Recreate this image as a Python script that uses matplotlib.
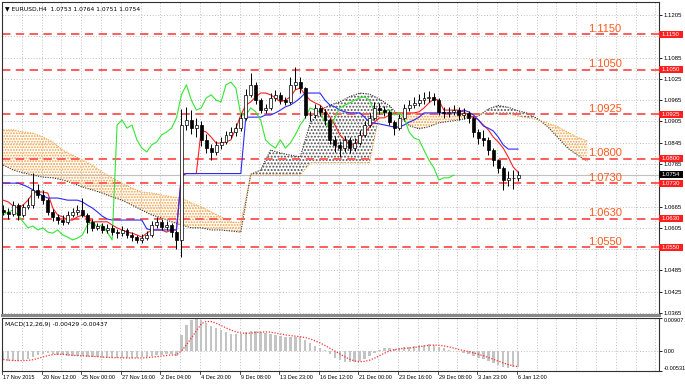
import numpy as np
import pandas as pd
import matplotlib
matplotlib.use("Agg")
import matplotlib.pyplot as plt
from matplotlib.patches import Rectangle

plt.rcParams['font.family'] = ['Liberation Sans', 'DejaVu Sans']
plt.rcParams['hatch.linewidth'] = 0.9

# EURUSD, each candle = two H4 bars (17 Nov 2015 .. 7 Jan 2016)
first_open = 1.0655
closes = [1.0650, 1.0644, 1.0669, 1.0641, 1.0664, 1.0669, 1.0712, 1.0698, 1.0683, 1.0650,
          1.0636, 1.0627, 1.0622, 1.0641, 1.0650, 1.0655, 1.0641, 1.0622, 1.0605, 1.0610,
          1.0599, 1.0605, 1.0593, 1.0590, 1.0599, 1.0585, 1.0579, 1.0571, 1.0576, 1.0585,
          1.0613, 1.0622, 1.0607, 1.0613, 1.0593, 1.0571, 1.0895, 1.0909, 1.0886, 1.0895,
          1.0853, 1.0830, 1.0819, 1.0839, 1.0847, 1.0867, 1.0875, 1.0886, 1.0915, 1.0980,
          1.1008, 1.0965, 1.0937, 1.0943, 1.0971, 1.0980, 1.0965, 1.0960, 1.1008, 1.1016,
          1.0999, 1.0923, 1.0923, 1.0943, 1.0932, 1.0909, 1.0853, 1.0839, 1.0830, 1.0853,
          1.0830, 1.0844, 1.0867, 1.0895, 1.0915, 1.0943, 1.0937, 1.0932, 1.0903, 1.0886,
          1.0915, 1.0943, 1.0951, 1.0957, 1.0965, 1.0971, 1.0974, 1.0965, 1.0932, 1.0929,
          1.0932, 1.0937, 1.0923, 1.0929, 1.0915, 1.0875, 1.0858, 1.0853, 1.0824, 1.0796,
          1.0774, 1.0740, 1.0746, 1.0746, 1.0754]
highs = [1.0668, 1.0660, 1.0680, 1.0676, 1.0672, 1.0690, 1.0760, 1.0728, 1.0712, 1.0690,
         1.0658, 1.0645, 1.0640, 1.0652, 1.0662, 1.0668, 1.0688, 1.0648, 1.0630, 1.0620,
         1.0618, 1.0615, 1.0612, 1.0602, 1.0610, 1.0605, 1.0592, 1.0585, 1.0588, 1.0596,
         1.0625, 1.0635, 1.0630, 1.0625, 1.0620, 1.0600, 1.0940, 1.0945, 1.0937, 1.0915,
         1.0905, 1.0870, 1.0840, 1.0850, 1.0860, 1.0878, 1.0890, 1.0900, 1.0930, 1.0995,
         1.1041, 1.1015, 1.0972, 1.0955, 1.0985, 1.0994, 1.0988, 1.0975, 1.1030, 1.1058,
         1.1030, 1.1002, 1.0935, 1.0955, 1.0950, 1.0940, 1.0915, 1.0865, 1.0850, 1.0865,
         1.0860, 1.0858, 1.0880, 1.0905, 1.0928, 1.0960, 1.0957, 1.0948, 1.0938, 1.0910,
         1.0925, 1.0955, 1.0965, 1.0975, 1.0982, 1.0988, 1.0992, 1.0985, 1.0972, 1.0945,
         1.0945, 1.0950, 1.0945, 1.0942, 1.0935, 1.0920, 1.0885, 1.0880, 1.0860, 1.0830,
         1.0800, 1.0778, 1.0765, 1.0768, 1.0765]
lows = [1.0640, 1.0630, 1.0638, 1.0627, 1.0635, 1.0658, 1.0662, 1.0690, 1.0672, 1.0640,
        1.0625, 1.0615, 1.0612, 1.0615, 1.0635, 1.0642, 1.0635, 1.0590, 1.0596, 1.0598,
        1.0590, 1.0590, 1.0585, 1.0575, 1.0583, 1.0575, 1.0568, 1.0562, 1.0563, 1.0570,
        1.0580, 1.0605, 1.0598, 1.0600, 1.0580, 1.0545, 1.0524, 1.0880, 1.0870, 1.0860,
        1.0835, 1.0815, 1.0796, 1.0810, 1.0828, 1.0840, 1.0858, 1.0865, 1.0878, 1.0910,
        1.0975, 1.0955, 1.0928, 1.0930, 1.0938, 1.0962, 1.0955, 1.0950, 1.0955, 1.0995,
        1.0985, 1.0915, 1.0905, 1.0915, 1.0920, 1.0895, 1.0840, 1.0820, 1.0805, 1.0820,
        1.0815, 1.0822, 1.0838, 1.0860, 1.0888, 1.0908, 1.0925, 1.0920, 1.0895, 1.0867,
        1.0880, 1.0908, 1.0935, 1.0942, 1.0948, 1.0955, 1.0960, 1.0952, 1.0922, 1.0915,
        1.0918, 1.0922, 1.0910, 1.0912, 1.0900, 1.0860, 1.0840, 1.0835, 1.0810, 1.0780,
        1.0760, 1.0712, 1.0722, 1.0715, 1.0738]

# Ichimoku lines, one value per candle
tenkan = [1.0683, 1.0678, 1.0667, 1.0661, 1.0669, 1.0683, 1.0703, 1.0706, 1.0706, 1.0703,
          1.0661, 1.0641, 1.0636, 1.0627, 1.0627, 1.0636, 1.0641, 1.0633, 1.0622, 1.0622,
          1.0622, 1.0622, 1.0613, 1.0605, 1.0599, 1.0593, 1.0590, 1.0585, 1.0579, 1.0590,
          1.0599, 1.0599, 1.0599, 1.0593, 1.0599, 1.0599, 1.0758, 1.0758, 1.0758, 1.0758,
          1.0881, 1.0875, 1.0861, 1.0844, 1.0844, 1.0847, 1.0853, 1.0886, 1.0923, 1.0951,
          1.0960, 1.0974, 1.0985, 1.0985, 1.0980, 1.0971, 1.0960, 1.0965, 1.0974, 1.0994,
          1.0999, 1.0980, 1.0965, 1.0957, 1.0951, 1.0937, 1.0917, 1.0895, 1.0867, 1.0853,
          1.0839, 1.0839, 1.0853, 1.0872, 1.0889, 1.0903, 1.0915, 1.0915, 1.0923, 1.0929,
          1.0929, 1.0929, 1.0929, 1.0929, 1.0932, 1.0943, 1.0957, 1.0968, 1.0965, 1.0937,
          1.0937, 1.0937, 1.0937, 1.0932, 1.0923, 1.0917, 1.0909, 1.0895, 1.0881, 1.0861,
          1.0847, 1.0830, 1.0805, 1.0777, 1.0762]
kijun = [1.0731, 1.0731, 1.0731, 1.0731, 1.0726, 1.0720, 1.0712, 1.0703, 1.0695, 1.0689,
         1.0689, 1.0689, 1.0686, 1.0683, 1.0683, 1.0683, 1.0678, 1.0669, 1.0661, 1.0650,
         1.0638, 1.0630, 1.0627, 1.0627, 1.0627, 1.0627, 1.0627, 1.0627, 1.0627, 1.0602,
         1.0599, 1.0599, 1.0599, 1.0599, 1.0599, 1.0599, 1.0750, 1.0758, 1.0758, 1.0758,
         1.0758, 1.0758, 1.0758, 1.0758, 1.0758, 1.0758, 1.0758, 1.0758, 1.0758, 1.0917,
         1.0917, 1.0917, 1.0917, 1.0923, 1.0923, 1.0929, 1.0937, 1.0946, 1.0951, 1.0960,
         1.0971, 1.0985, 1.0985, 1.0985, 1.0985, 1.0965, 1.0951, 1.0946, 1.0937, 1.0932,
         1.0929, 1.0929, 1.0929, 1.0917, 1.0903, 1.0900, 1.0898, 1.0895, 1.0892, 1.0889,
         1.0889, 1.0895, 1.0903, 1.0909, 1.0917, 1.0929, 1.0929, 1.0929, 1.0929, 1.0929,
         1.0929, 1.0929, 1.0929, 1.0937, 1.0932, 1.0923, 1.0909, 1.0892, 1.0886, 1.0878,
         1.0861, 1.0839, 1.0827, 1.0827, 1.0827]

# cloud spans (already shifted 26 bars ahead), one value every 4 H4 bars
span_a = [1.0782, 1.0768, 1.0760, 1.0754, 1.0748, 1.0746, 1.0740, 1.0731, 1.0720, 1.0712,
          1.0703, 1.0692, 1.0683, 1.0669, 1.0655, 1.0641, 1.0633, 1.0622, 1.0613, 1.0605,
          1.0605, 1.0599, 1.0599, 1.0596, 1.0593, 1.0756, 1.0768, 1.0824, 1.0816, 1.0810,
          1.0805, 1.0900, 1.0937, 1.0951, 1.0960, 1.0975, 1.0985, 1.0982, 1.0968, 1.0950,
          1.0920, 1.0893, 1.0884, 1.0890, 1.0901, 1.0905, 1.0909, 1.0915, 1.0920, 1.0940,
          1.0950, 1.0945, 1.0935, 1.0928, 1.0912, 1.0890, 1.0860, 1.0830, 1.0810, 1.0793]
span_b = [1.0881, 1.0881, 1.0875, 1.0872, 1.0861, 1.0847, 1.0824, 1.0810, 1.0796, 1.0782,
          1.0762, 1.0746, 1.0731, 1.0717, 1.0706, 1.0703, 1.0698, 1.0692, 1.0689, 1.0675,
          1.0664, 1.0650, 1.0636, 1.0622, 1.0619, 1.0754, 1.0754, 1.0754, 1.0754, 1.0754,
          1.0754, 1.0788, 1.0788, 1.0788, 1.0788, 1.0788, 1.0788, 1.0788, 1.0927, 1.0927,
          1.0927, 1.0927, 1.0927, 1.0927, 1.0927, 1.0927, 1.0927, 1.0927, 1.0927, 1.0927,
          1.0925, 1.0925, 1.0920, 1.0915, 1.0910, 1.0900, 1.0890, 1.0875, 1.0860, 1.0850]

# MACD(12,26,9) main line, one value per candle
macd = [-0.0022, -0.0025, -0.0027, -0.0026, -0.0024, -0.0020, -0.0015, -0.0010, -0.0006, -0.0005,
        -0.0007, -0.0009, -0.0011, -0.0012, -0.0013, -0.0012, -0.0012, -0.0014, -0.0016, -0.0016,
        -0.0017, -0.0017, -0.0017, -0.0017, -0.0018, -0.0019, -0.0018, -0.0017, -0.0016, -0.0015,
        -0.0012, -0.0010, -0.0010, -0.0008, -0.0008, -0.0012, 0.0045, 0.0072, 0.0085, 0.0088,
        0.0084, 0.0078, 0.0070, 0.0063, 0.0057, 0.0052, 0.0048, 0.0046, 0.0047, 0.0052,
        0.0056, 0.0055, 0.0052, 0.0050, 0.0048, 0.0045, 0.0042, 0.0040, 0.0040, 0.0040,
        0.0038, 0.0030, 0.0022, 0.0015, 0.0010, 0.0004, -0.0008, -0.0017, -0.0024, -0.0028,
        -0.0030, -0.0030, -0.0027, -0.0020, -0.0012, -0.0003, 0.0004, 0.0008, 0.0008, 0.0007,
        0.0008, 0.0011, 0.0013, 0.0015, 0.0017, 0.0018, 0.0019, 0.0018, 0.0012, 0.0008,
        0.0005, 0.0002, 0.0000, -0.0003, -0.0006, -0.0012, -0.0017, -0.0021, -0.0026, -0.0031,
        -0.0036, -0.0041, -0.0044, -0.0043, -0.0043]

levels = [1.1150, 1.1050, 1.0925, 1.0800, 1.0730, 1.0630, 1.0550]
level_labels = ['1.1150', '1.1050', '1.0925', '1.0800', '1.0730', '1.0630', '1.0550']
price_ticks = [1.0365, 1.0425, 1.0485, 1.0545, 1.0605, 1.0665, 1.0725, 1.0785,
               1.0845, 1.0905, 1.0965, 1.1025, 1.1085, 1.1145, 1.1205]
last_price = 1.0754
date_labels = ['17 Nov 2015', '20 Nov 12:00', '25 Nov 00:00', '27 Nov 16:00', '2 Dec 04:00',
               '4 Dec 20:00', '9 Dec 08:00', '13 Dec 23:00', '16 Dec 12:00', '21 Dec 00:00',
               '23 Dec 16:00', '29 Dec 08:00', '3 Jan 23:00', '6 Jan 12:00']

W, H = 685, 387
bar_px = 2.475  # pixels per H4 bar
pp = 0.0002819  # price per pixel


def rect(l, t, r, b):
    return [l / W, 1 - b / H, (r - l) / W, (b - t) / H]


fig = plt.figure(figsize=(W / 100, H / 100), dpi=100)
fig.patch.set_facecolor('white')
ax = fig.add_axes(rect(2, 2, 659, 315))
axm = fig.add_axes(rect(2, 318, 659, 371), sharex=ax)

n = len(closes)
xb = np.arange(n) * 2 + 0.5
opens = np.array([first_open] + closes[:-1])
c = np.array(closes)
xs = np.arange(len(span_a)) * 4 + 0.5
sa = np.array(span_a)
sb = np.array(span_b)

ax.set_xlim(0, 657 / bar_px)
ax.set_ylim(1.03593, 1.12416)
axm.set_ylim(-0.00531, 0.00907)

grid_kw = dict(color='#b8b8b8', lw=0.6, ls=(0, (1.2, 2.2)), zorder=0)
for p in price_ticks:
    ax.axhline(p, **grid_kw)
axm.axhline(0, **grid_kw)
for b in range(0, 266, 8):
    ax.axvline(b, **grid_kw)
    axm.axvline(b, **grid_kw)

# cloud
ax.fill_between(xs, sa, sb, where=sb >= sa, interpolate=True, facecolor='none',
                edgecolor='#f4a040', hatch='......', lw=0, zorder=1)
ax.fill_between(xs, sa, sb, where=sa > sb, interpolate=True, facecolor='none',
                edgecolor='#505050', hatch='.....', lw=0, zorder=1)
ax.plot(xs, sa, color='#303030', lw=0.8, ls=(0, (1, 1.2)), zorder=2)
ax.plot(xs, sb, color='#f4a040', lw=0.8, ls=(0, (1, 1.2)), zorder=2)

# levels
for p, lab in zip(levels, level_labels):
    ax.axhline(p, color='#ff5c5c', lw=1.4, ls=(0, (4.3, 2.8)), zorder=2)
    ax.text(586 / bar_px, p + 2.6 * pp, lab, color='#ff5a1e', fontsize=8,
            ha='left', va='baseline', zorder=6)
ax.axhline(last_price, color='#c0c0c0', lw=0.8, zorder=1)

# ichimoku lines
ax.plot(xb, tenkan, color='#ff2020', lw=0.8, zorder=3)
ax.plot(xb, kijun, color='#2a2aff', lw=0.8, zorder=3)
ax.plot(xb[:-13], c[13:], color='#33e633', lw=0.8, zorder=3)

# candles
up = c >= opens
ax.vlines(xb, lows, highs, color='black', lw=0.7, zorder=4)
body = np.maximum(np.abs(c - opens), 0.00008)
ax.bar(xb, body, bottom=np.minimum(c, opens), width=1.2,
       color=np.where(up, '#ffffff', '#000000'), edgecolor='black', lw=0.5, zorder=5)

# MACD
sig = pd.Series(macd).rolling(5, min_periods=1).mean()
axm.bar(xb, macd, width=1.0, color='#c4c4c4', zorder=2)
axm.plot(xb, sig, color='#ff3030', lw=0.9, ls=(0, (1, 1.3)), zorder=3)

# axes styling
for a in (ax, axm):
    for s in a.spines.values():
        s.set_color('#303030')
        s.set_linewidth(0.8)
    a.tick_params(axis='y', which='both', left=False, right=True, labelleft=False,
                  labelright=True, length=2, width=0.6, pad=1.5, labelsize=4.3)
    a.tick_params(axis='x', which='both', length=0, labelbottom=False)
ax.spines['bottom'].set_color('#888888')
ax.spines['bottom'].set_linewidth(2.2)

# labels hidden behind the level boxes are left blank
hidden = [1.0545, 1.0725, 1.1145]
ax.set_yticks(price_ticks)
ax.set_yticklabels(['' if p in hidden else f'{p:.4f}' for p in price_ticks])
axm.set_yticks([0.00907, 0.0, -0.00531])
axm.set_yticklabels(['0.00907', '0.00', '-0.00531'])
axm.tick_params(axis='y', labelsize=4.1)
tl = axm.get_yticklabels()
tl[0].set_va('top')
tl[2].set_va('bottom')

# price boxes on the right scale
ytr = ax.get_yaxis_transform()
bx0 = 1.0
bw = 24 / 657
bh = 7 * pp
for p, lab in zip(levels, level_labels):
    ax.add_patch(Rectangle((bx0, p - bh / 2), bw, bh, transform=ytr, clip_on=False,
                           facecolor='#ff1e1e', edgecolor='none', zorder=10))
    ax.text(bx0 + 3 / 657, p, lab, transform=ytr, color='white', fontsize=4.3,
            va='center', ha='left', zorder=11, clip_on=False)
ax.add_patch(Rectangle((bx0, last_price - bh / 2), bw, bh, transform=ytr, clip_on=False,
                       facecolor='black', edgecolor='none', zorder=10))
ax.text(bx0 + 3 / 657, last_price, f'{last_price:.4f}', transform=ytr, color='white',
        fontsize=4.3, va='center', ha='left', zorder=11, clip_on=False)

# time scale
xtr = axm.get_xaxis_transform()
for i, lab in enumerate(date_labels):
    b = 16 * i
    axm.plot([b, b], [0, -0.05], transform=xtr, color='#303030', lw=0.6, clip_on=False)
    axm.text(b + 0.4, -0.12, lab, transform=xtr, fontsize=4.0, ha='left', va='center')

# headers
ax.text(0.004, 0.985, '\u25bc EURUSD,H4  1.0753 1.0764 1.0751 1.0754', transform=ax.transAxes,
        fontsize=4.3, ha='left', va='top', family=['DejaVu Sans'])
axm.text(0.004, 0.93, 'MACD(12,26,9) -0.00429 -0.00437', transform=axm.transAxes,
         fontsize=4.3, ha='left', va='top', family=['DejaVu Sans'])

fig.savefig('out.png', dpi=100)
